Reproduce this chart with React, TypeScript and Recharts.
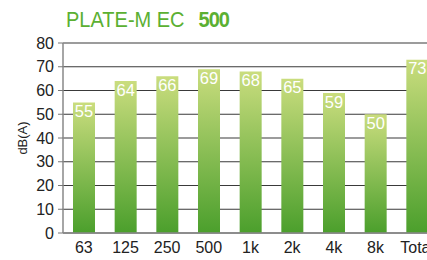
import React from 'react';
import { BarChart, Bar, XAxis, YAxis, CartesianGrid, LabelList } from 'recharts';

const categories = ['63', '125', '250', '500', '1k', '2k', '4k', '8k', 'Total'];
const levels = [55, 64, 66, 69, 68, 65, 59, 50, 73];
const yTicks = [0, 10, 20, 30, 40, 50, 60, 70, 80];

const data = categories.map((c, i) => ({ name: c, value: levels[i] }));

const FONT = '"Liberation Sans", Arial, sans-serif';

export default function App() {
  return (
    <div style={{ position: 'absolute', left: 0, top: 0, width: 427, height: 260, overflow: 'hidden', background: '#fff', fontFamily: FONT }}>
      <div style={{ position: 'absolute', left: 66, top: 6, fontSize: 20, color: '#5bb032', whiteSpace: 'nowrap', lineHeight: '24px', transform: 'scale(1, 1.1)', transformOrigin: 'left top' }}>
        <span>PLATE-M EC</span>
        <span style={{ fontWeight: 'bold', marginLeft: 14, letterSpacing: -1 }}>500</span>
      </div>
      <div style={{ position: 'absolute', left: 22, top: 138, transform: 'translate(-50%, -50%) rotate(-90deg)', fontSize: 13, color: '#222', whiteSpace: 'nowrap' }}>
        dB(A)
      </div>
      <div style={{ position: 'absolute', left: 0, top: 0 }}>
        <BarChart width={460} height={260} data={data} margin={{ top: 43, right: 22, left: 0, bottom: 0 }}>
          <defs>
            <linearGradient id="barGrad" x1="0" y1="0" x2="0" y2="1">
              <stop offset="0%" stopColor="#cadd7e" />
              <stop offset="100%" stopColor="#4b9f2c" />
            </linearGradient>
          </defs>
          <CartesianGrid vertical={false} stroke="#3a3a3a" strokeWidth={1.2} />
          <XAxis
            dataKey="name"
            height={27}
            tickLine={false}
            tickSize={0}
            tickMargin={9}
            axisLine={{ stroke: '#888', strokeWidth: 1.5 }}
            tick={{ fill: '#222', fontSize: 16, fontFamily: FONT }}
            interval={0}
          />
          <YAxis
            width={63}
            domain={[0, 80]}
            ticks={yTicks}
            interval={0}
            tickSize={5}
            tickMargin={4}
            tickLine={{ stroke: '#777' }}
            axisLine={{ stroke: '#888', strokeWidth: 1.5 }}
            tick={{ fill: '#222', fontSize: 16, fontFamily: FONT }}
          />
          <Bar dataKey="value" fill="url(#barGrad)" barSize={22} isAnimationActive={false}>
            <LabelList dataKey="value" position="insideTop" offset={3} fill="#ffffff" fontSize={16.5} fontFamily={FONT} />
          </Bar>
        </BarChart>
      </div>
    </div>
  );
}
